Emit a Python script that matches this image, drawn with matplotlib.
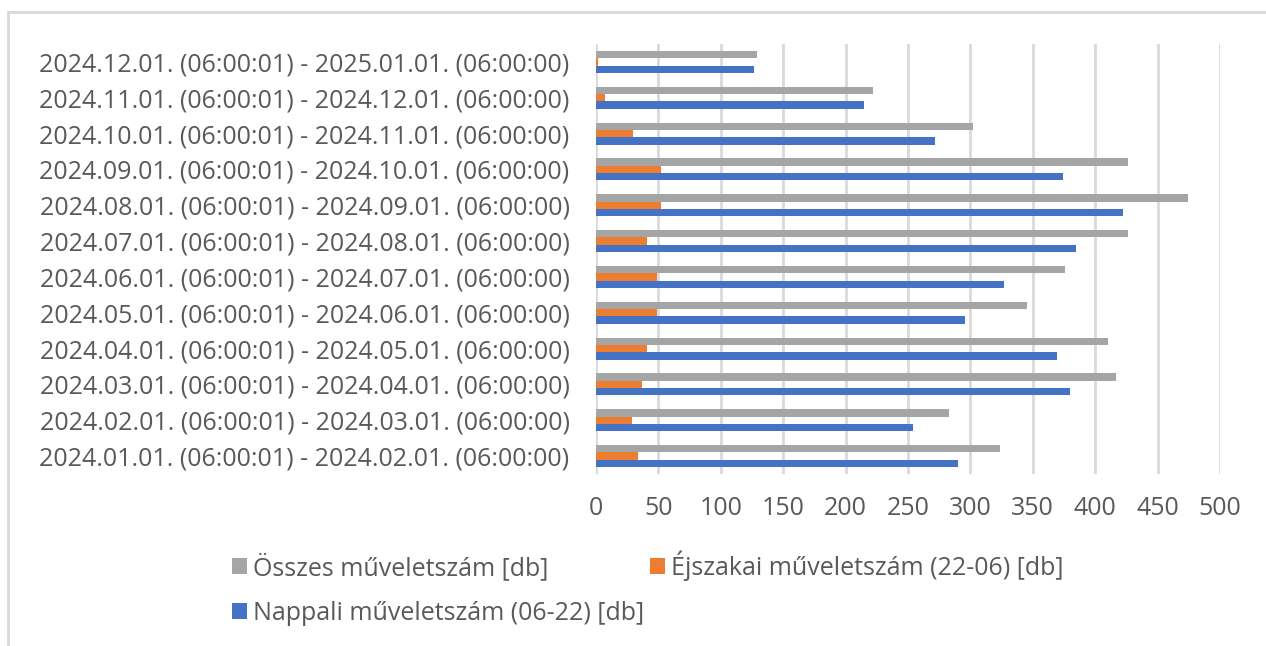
import matplotlib
matplotlib.use('Agg')
import matplotlib.pyplot as plt
from matplotlib.lines import Line2D
import numpy as np

plt.rcParams['font.family'] = ['Open Sans', 'DejaVu Sans']

# categories, bottom (Jan) to top (Dec)
periods = [
    '2024.01.01. (06:00:01) - 2024.02.01. (06:00:00)',
    '2024.02.01. (06:00:01) - 2024.03.01. (06:00:00)',
    '2024.03.01. (06:00:01) - 2024.04.01. (06:00:00)',
    '2024.04.01. (06:00:01) - 2024.05.01. (06:00:00)',
    '2024.05.01. (06:00:01) - 2024.06.01. (06:00:00)',
    '2024.06.01. (06:00:01) - 2024.07.01. (06:00:00)',
    '2024.07.01. (06:00:01) - 2024.08.01. (06:00:00)',
    '2024.08.01. (06:00:01) - 2024.09.01. (06:00:00)',
    '2024.09.01. (06:00:01) - 2024.10.01. (06:00:00)',
    '2024.10.01. (06:00:01) - 2024.11.01. (06:00:00)',
    '2024.11.01. (06:00:01) - 2024.12.01. (06:00:00)',
    '2024.12.01. (06:00:01) - 2025.01.01. (06:00:00)',
]
nappali = [290, 254, 380, 369, 296, 327, 385, 422, 374, 272, 215, 127]
ejszakai = [34, 29, 37, 41, 49, 49, 41, 52, 52, 30, 7, 2]
osszes = [324, 283, 417, 410, 345, 376, 426, 474, 426, 302, 222, 129]

names = ['Nappali műveletszám (06-22) [db]',
         'Éjszakai műveletszám (22-06) [db]',
         'Összes műveletszám [db]']
colors = ['#4472C4', '#ED7D31', '#A5A5A5']
text_c = '#595959'
fs = 18

fig = plt.figure(figsize=(12.66, 6.46), dpi=100)
ax = fig.add_axes([596 / 1266, 1 - 474 / 646, 624 / 1266, 430 / 646])

y = np.arange(len(periods))
h = 0.205
bars = []
for i, (vals, c) in enumerate(zip([nappali, ejszakai, osszes], colors)):
    b = ax.barh(y + (i - 1) * h, vals, height=h, color=c, zorder=3)
    bars.append(b)

ax.set_xlim(0, 500)
ax.set_ylim(-0.5, len(periods) - 0.5)
ax.set_xticks(range(0, 501, 50))
ax.set_yticks(y)
ax.set_yticklabels(periods)
ax.tick_params(axis='both', length=0, labelsize=fs, colors=text_c)
ax.tick_params(axis='y', pad=19)
ax.tick_params(axis='x', pad=16)
ax.grid(axis='x', color='#D9D9D9', linewidth=2, zorder=0)
for s in ax.spines.values():
    s.set_visible(False)

# legend, row-wise order like the original
handles = [bars[2], bars[0], bars[1]]
labels = [names[2], names[0], names[1]]
fig.legend(handles, labels, ncol=2, loc='upper left',
           bbox_to_anchor=(219 / 1266, 1 - 538 / 646), frameon=False,
           borderpad=0, fontsize=fs, labelcolor=text_c,
           handlelength=0.6, handleheight=0.6, handletextpad=0.25,
           columnspacing=0.25, labelspacing=0.8)

# chart area border (top and left visible)
fig.add_artist(Line2D([8 / 1266, 1], [1 - 12 / 646, 1 - 12 / 646], color='#D9D9D9', lw=2))
fig.add_artist(Line2D([8 / 1266, 8 / 1266], [0, 1 - 12 / 646], color='#D9D9D9', lw=2))

fig.savefig('out.png', dpi=100)
